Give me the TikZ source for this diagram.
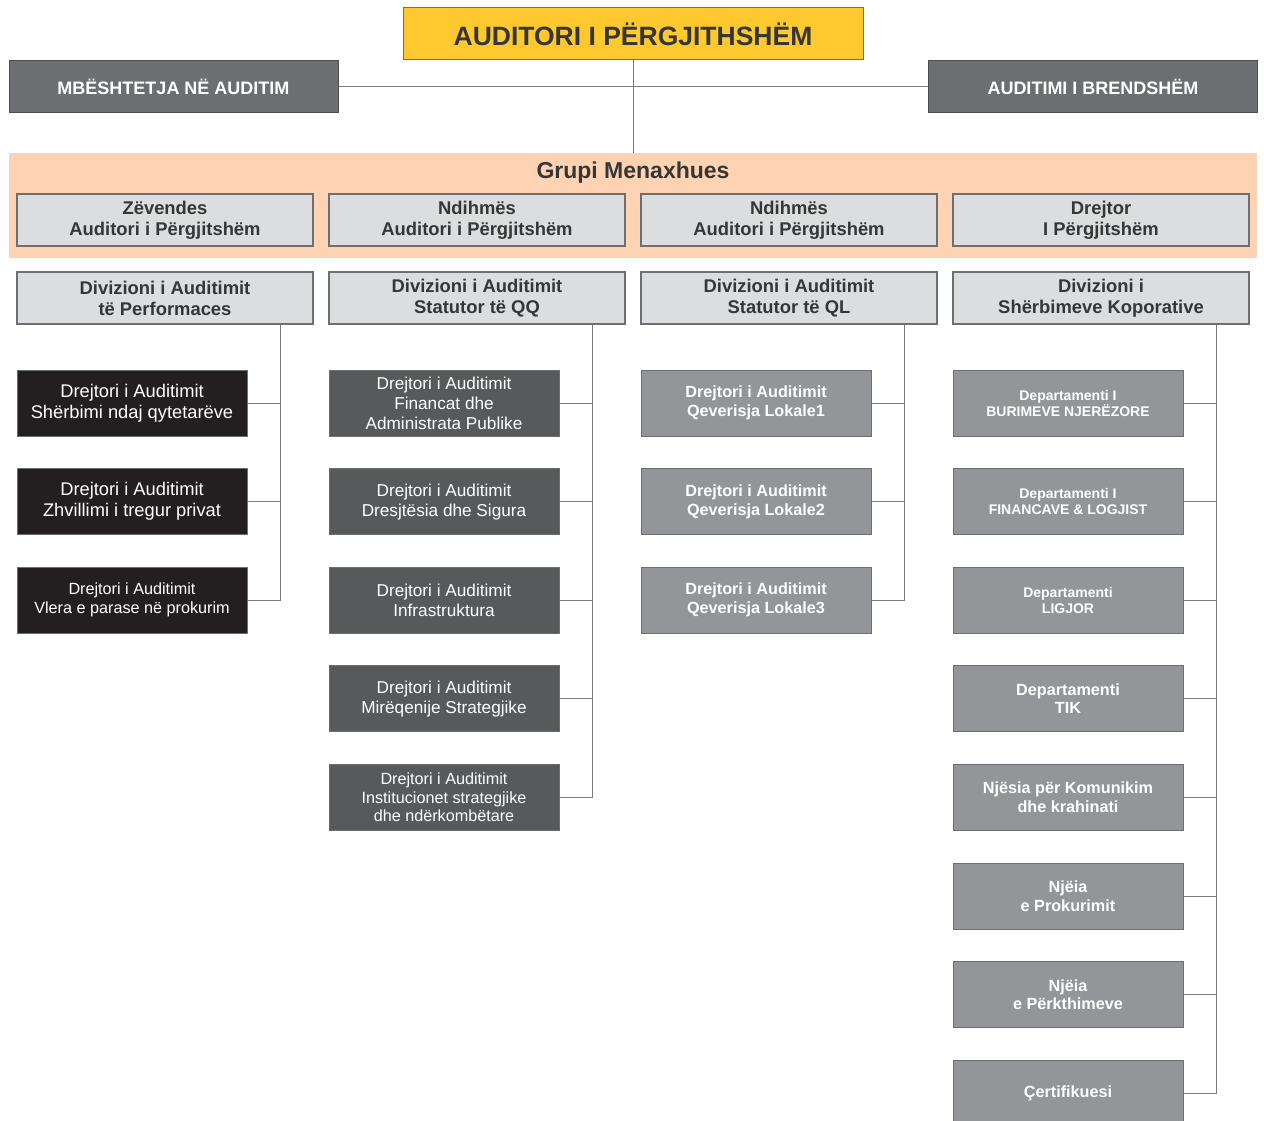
\documentclass[tikz,border=0pt]{standalone}
\usepackage{fontspec}
\setmainfont{Liberation Sans}
\usepackage{tikz}
\usetikzlibrary{positioning}
\definecolor{ChiefYellow}{HTML}{FEC82F}
\definecolor{SupportGray}{HTML}{6D6E71}
\definecolor{BandPeach}{HTML}{FDD3B3}
\definecolor{BoxLight}{HTML}{DCDDDE}
\definecolor{PerfBlack}{HTML}{231F20}
\definecolor{QQGray}{HTML}{58595B}
\definecolor{QLGray}{HTML}{939598}
\definecolor{TextDark}{HTML}{363636}
\definecolor{WireGray}{HTML}{7A7B7D}
\tikzset{
  every node/.style={
    align=center,
    inner sep=0pt
  },
  chief/.style={
    shape=rectangle,
    minimum width=460pt,
    minimum height=52pt,
    draw=SupportGray,
    line width=1pt,
    fill=ChiefYellow,
    text=TextDark,
    font=\fontsize{26.5}{30}\selectfont\bfseries
  },
  support/.style={
    shape=rectangle,
    minimum width=329pt,
    minimum height=52pt,
    draw=SupportGray!70!black,
    line width=1pt,
    fill=SupportGray,
    text=white,
    font=\fontsize{18}{21}\selectfont\bfseries
  },
  manager/.style={
    shape=rectangle,
    minimum width=296pt,
    minimum height=52pt,
    draw=SupportGray,
    line width=1.2pt,
    fill=BoxLight,
    text=TextDark,
    font=\fontsize{18.4}{21}\selectfont\bfseries
  },
  director/.style={
    shape=rectangle,
    minimum width=230pt,
    minimum height=66pt,
    draw=SupportGray,
    line width=1pt,
    text=white
  },
  perf director/.style={
    director,
    fill=PerfBlack,
    font=\fontsize{18.3}{21}\selectfont
  },
  qq director/.style={
    director,
    fill=QQGray,
    font=\fontsize{17.2}{20}\selectfont
  },
  ql director/.style={
    director,
    fill=QLGray,
    font=\fontsize{16.2}{19}\selectfont\bfseries
  },
  department/.style={
    director,
    fill=QLGray,
    font=\fontsize{14}{16}\selectfont\bfseries
  },
  unit/.style={
    director,
    fill=QLGray,
    font=\fontsize{16.2}{18.5}\selectfont\bfseries
  },
  wire/.style={
    draw=WireGray,
    line width=1pt
  }
}

\begin{document}
\begin{tikzpicture}[x=1pt, y=-1pt, node distance=31.6pt]

\useasboundingbox (0,0) rectangle (1264,1121);

\node [chief] (chief) at (633,34) {AUDITORI I PËRGJITHSHËM};
\node [support] (support) at (173.5,87) {MBËSHTETJA NË AUDITIM};
\node [support] (intaudit) at (1093,87) {AUDITIMI I BRENDSHËM};

\node [shape=rectangle, fill=BandPeach, minimum width=1248pt, minimum height=105pt] (band) at (633,205.5) {};
\node [text=TextDark, font=\fontsize{23}{26}\selectfont\bfseries] (grouptitle) at (633,172.5) {Grupi Menaxhues};

\node [manager] (deputy) at (165,220) {Zëvendes\\Auditori i Përgjitshëm};
\node [manager] (assistqq) at (477,220) {Ndihmës\\Auditori i Përgjitshëm};
\node [manager] (assistql) at (789,220) {Ndihmës\\Auditori i Përgjitshëm};
\node [manager] (general) at (1101,220) {Drejtor\\I Përgjitshëm};

\node [manager] (perfdiv) at (165,298) {Divizioni i Auditimit\\të Performaces};
\node [manager] (qqdiv) at (477,298) {Divizioni i Auditimit\\Statutor të QQ};
\node [manager] (qldiv) at (789,298) {Divizioni i Auditimit\\Statutor të QL};
\node [manager] (corpdiv) at (1101,298) {Divizioni i\\Shërbimeve Koporative};

\node [perf director] (perf1) at (132,403) {Drejtori i Auditimit\\Shërbimi ndaj qytetarëve};
\node [perf director, below=of perf1] (perf2) {Drejtori i Auditimit\\Zhvillimi i tregur privat};
\node [perf director, below=of perf2, font=\fontsize{16.2}{19}\selectfont] (perf3) {Drejtori i Auditimit\\Vlera e parase në prokurim};

\node [qq director] (qq1) at (444,403) {Drejtori i Auditimit\\Financat dhe\\Administrata Publike};
\node [qq director, below=of qq1] (qq2) {Drejtori i Auditimit\\Dresjtësia dhe Sigura};
\node [qq director, below=of qq2] (qq3) {Drejtori i Auditimit\\Infrastruktura};
\node [qq director, below=of qq3] (qq4) {Drejtori i Auditimit\\Mirëqenije Strategjike};
\node [qq director, below=of qq4, font=\fontsize{16.2}{18.5}\selectfont] (qq5) {Drejtori i Auditimit\\Institucionet strategjike\\dhe ndërkombëtare};

\node [ql director] (ql1) at (756,403) {Drejtori i Auditimit\\Qeverisja Lokale1};
\node [ql director, below=of ql1] (ql2) {Drejtori i Auditimit\\Qeverisja Lokale2};
\node [ql director, below=of ql2] (ql3) {Drejtori i Auditimit\\Qeverisja Lokale3};

\node [department] (corp1) at (1068,403) {Departamenti I\\BURIMEVE NJERËZORE};
\node [department, below=of corp1] (corp2) {Departamenti I\\FINANCAVE \& LOGJIST};
\node [department, below=of corp2] (corp3) {Departamenti\\LIGJOR};
\node [unit, below=of corp3] (corp4) {Departamenti\\TIK};
\node [unit, below=of corp4] (corp5) {Njësia për Komunikim\\dhe krahinati};
\node [unit, below=of corp5] (corp6) {Njëia\\e Prokurimit};
\node [unit, below=of corp6] (corp7) {Njëia\\e Përkthimeve};
\node [unit, below=of corp7] (corp8) {Çertifikuesi};

\draw [wire] (chief.south) -- (band.north);
\draw [wire] (support.east) -- (intaudit.west);

\coordinate (perfbus) at ([xshift=-33pt]perfdiv.south east);
\draw [wire] (perfbus) |- (perf3.east);
\draw [wire] (perf1.east) -- (perf1.east -| perfbus);
\draw [wire] (perf2.east) -- (perf2.east -| perfbus);

\coordinate (qqbus) at ([xshift=-33pt]qqdiv.south east);
\draw [wire] (qqbus) |- (qq5.east);
\draw [wire] (qq1.east) -- (qq1.east -| qqbus);
\draw [wire] (qq2.east) -- (qq2.east -| qqbus);
\draw [wire] (qq3.east) -- (qq3.east -| qqbus);
\draw [wire] (qq4.east) -- (qq4.east -| qqbus);

\coordinate (qlbus) at ([xshift=-33pt]qldiv.south east);
\draw [wire] (qlbus) |- (ql3.east);
\draw [wire] (ql1.east) -- (ql1.east -| qlbus);
\draw [wire] (ql2.east) -- (ql2.east -| qlbus);

\coordinate (corpbus) at ([xshift=-33pt]corpdiv.south east);
\draw [wire] (corpbus) |- (corp8.east);
\draw [wire] (corp1.east) -- (corp1.east -| corpbus);
\draw [wire] (corp2.east) -- (corp2.east -| corpbus);
\draw [wire] (corp3.east) -- (corp3.east -| corpbus);
\draw [wire] (corp4.east) -- (corp4.east -| corpbus);
\draw [wire] (corp5.east) -- (corp5.east -| corpbus);
\draw [wire] (corp6.east) -- (corp6.east -| corpbus);
\draw [wire] (corp7.east) -- (corp7.east -| corpbus);

\end{tikzpicture}
\end{document}
